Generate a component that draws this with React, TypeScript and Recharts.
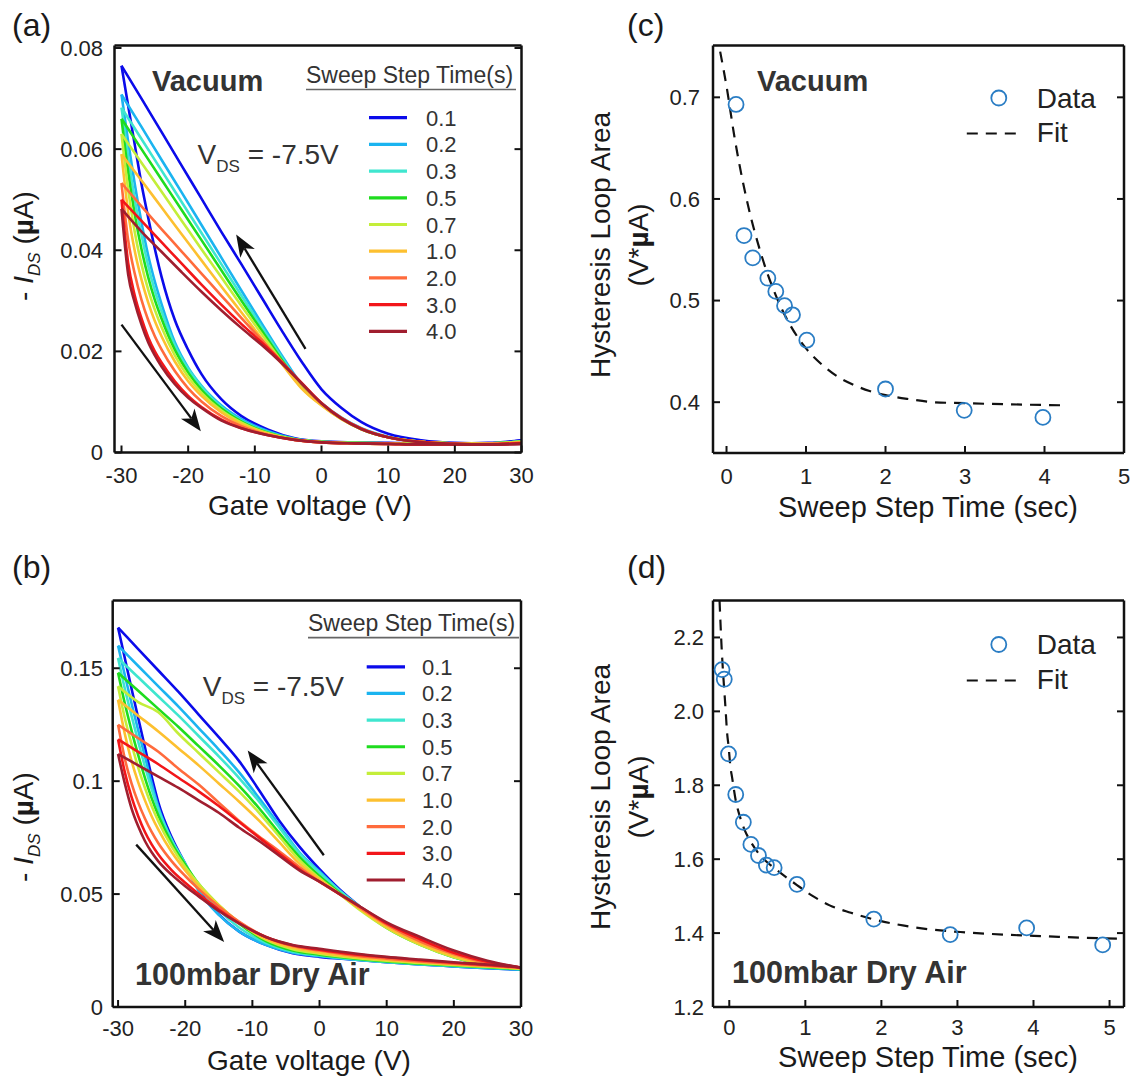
import React from 'react';
import { LineChart, Line, XAxis, YAxis, ReferenceLine, Legend, ComposedChart, Scatter } from 'recharts';

const FONT = '"Liberation Sans", Arial, Helvetica, sans-serif';

// ---------- shared legend / series meta ----------
const STEP_TIMES = ['0.1', '0.2', '0.3', '0.5', '0.7', '1.0', '2.0', '3.0', '4.0'];
const COLORS = ['#0b0bea', '#1bb4f0', '#3fe6cf', '#1fdc1f', '#c4ee3a', '#fdc030', '#ff6b3c', '#f2161a', '#a01e2f'];

// gate-voltage grids (V) for the forward (down) and reverse (up) sweeps
const VG_DOWN = [-30, -29, -28, -27, -26, -25, -24, -22, -20, -18, -15, -12, -8, -4, 0, 5, 10, 15, 20, 25, 30];
const VG_UP = [-30, -27, -24, -21, -18, -15, -12, -9, -6, -3, 0, 3, 6, 10, 15, 20, 25, 30];

// ---------- (a) Vacuum, -I_DS (uA) ----------
const VAC_DOWN = [
  [0.0765, 0.0686, 0.0608, 0.0531, 0.0465, 0.0403, 0.0348, 0.0262, 0.0203, 0.0155, 0.0105, 0.0072, 0.0045, 0.0028, 0.0022, 0.0020, 0.0019, 0.0018, 0.0018, 0.0019, 0.0024],
  [0.0708, 0.0615, 0.0530, 0.0455, 0.0390, 0.0338, 0.0294, 0.0218, 0.0168, 0.0132, 0.0093, 0.0066, 0.0042, 0.0027, 0.0021, 0.0019, 0.0018, 0.0017, 0.0017, 0.0018, 0.0022],
  [0.0682, 0.0585, 0.0500, 0.0430, 0.0370, 0.0320, 0.0280, 0.0212, 0.0165, 0.0130, 0.0090, 0.0063, 0.0040, 0.0026, 0.0021, 0.0019, 0.0018, 0.0017, 0.0017, 0.0018, 0.0021],
  [0.0660, 0.0555, 0.0470, 0.0402, 0.0347, 0.0302, 0.0265, 0.0203, 0.0158, 0.0124, 0.0087, 0.0061, 0.0039, 0.0026, 0.0021, 0.0019, 0.0018, 0.0017, 0.0017, 0.0018, 0.0021],
  [0.0630, 0.0520, 0.0435, 0.0372, 0.0322, 0.0282, 0.0248, 0.0192, 0.0150, 0.0118, 0.0083, 0.0059, 0.0038, 0.0026, 0.0021, 0.0019, 0.0018, 0.0017, 0.0017, 0.0018, 0.0021],
  [0.0590, 0.0475, 0.0398, 0.0342, 0.0297, 0.0260, 0.0230, 0.0180, 0.0141, 0.0112, 0.0079, 0.0056, 0.0037, 0.0025, 0.0020, 0.0018, 0.0017, 0.0017, 0.0017, 0.0017, 0.0020],
  [0.0533, 0.0420, 0.0353, 0.0302, 0.0262, 0.0230, 0.0204, 0.0161, 0.0127, 0.0101, 0.0072, 0.0052, 0.0035, 0.0025, 0.0020, 0.0018, 0.0017, 0.0016, 0.0016, 0.0017, 0.0019],
  [0.0500, 0.0375, 0.0310, 0.0265, 0.0228, 0.0200, 0.0178, 0.0141, 0.0112, 0.0090, 0.0065, 0.0048, 0.0034, 0.0025, 0.0020, 0.0018, 0.0017, 0.0016, 0.0016, 0.0016, 0.0018],
  [0.0482, 0.0352, 0.0296, 0.0253, 0.0218, 0.0192, 0.0170, 0.0135, 0.0108, 0.0088, 0.0063, 0.0048, 0.0034, 0.0025, 0.0020, 0.0018, 0.0017, 0.0016, 0.0016, 0.0016, 0.0017],
];
const VAC_UP = [
  [0.0765, 0.0700, 0.0634, 0.0568, 0.0502, 0.0436, 0.0372, 0.0307, 0.0242, 0.0180, 0.0125, 0.0088, 0.0060, 0.0037, 0.0024, 0.0019, 0.0018, 0.0024],
  [0.0708, 0.0644, 0.0579, 0.0515, 0.0450, 0.0385, 0.0320, 0.0256, 0.0193, 0.0135, 0.0098, 0.0069, 0.0048, 0.0031, 0.0021, 0.0018, 0.0017, 0.0022],
  [0.0682, 0.0620, 0.0558, 0.0496, 0.0434, 0.0372, 0.0310, 0.0249, 0.0189, 0.0132, 0.0096, 0.0068, 0.0047, 0.0030, 0.0021, 0.0018, 0.0017, 0.0021],
  [0.0660, 0.0600, 0.0540, 0.0480, 0.0420, 0.0360, 0.0300, 0.0242, 0.0184, 0.0130, 0.0095, 0.0067, 0.0046, 0.0030, 0.0021, 0.0018, 0.0017, 0.0021],
  [0.0630, 0.0573, 0.0516, 0.0459, 0.0402, 0.0346, 0.0290, 0.0235, 0.0180, 0.0128, 0.0094, 0.0066, 0.0046, 0.0030, 0.0021, 0.0018, 0.0017, 0.0021],
  [0.0590, 0.0538, 0.0485, 0.0432, 0.0380, 0.0328, 0.0277, 0.0226, 0.0176, 0.0127, 0.0093, 0.0066, 0.0046, 0.0030, 0.0021, 0.0018, 0.0017, 0.0020],
  [0.0533, 0.0487, 0.0442, 0.0398, 0.0354, 0.0310, 0.0266, 0.0223, 0.0180, 0.0136, 0.0097, 0.0068, 0.0047, 0.0030, 0.0021, 0.0017, 0.0016, 0.0019],
  [0.0500, 0.0458, 0.0416, 0.0374, 0.0332, 0.0292, 0.0254, 0.0218, 0.0179, 0.0138, 0.0098, 0.0068, 0.0047, 0.0030, 0.0021, 0.0017, 0.0016, 0.0018],
  [0.0482, 0.0437, 0.0397, 0.0357, 0.0318, 0.0281, 0.0246, 0.0213, 0.0177, 0.0137, 0.0097, 0.0067, 0.0046, 0.0030, 0.0020, 0.0017, 0.0016, 0.0017],
];

// ---------- (b) 100 mbar dry air, -I_DS (uA) ----------
const AIR_DOWN = [
  [0.168, 0.1545, 0.141, 0.128, 0.115, 0.102, 0.0905, 0.075, 0.0635, 0.052, 0.041, 0.0335, 0.0275, 0.0238, 0.0222, 0.021, 0.0198, 0.0188, 0.018, 0.0172, 0.0165],
  [0.160, 0.147, 0.1345, 0.1225, 0.111, 0.099, 0.0885, 0.0735, 0.0625, 0.0515, 0.0408, 0.0335, 0.0275, 0.024, 0.0225, 0.021, 0.0198, 0.0188, 0.018, 0.0172, 0.0165],
  [0.1545, 0.141, 0.129, 0.1175, 0.1065, 0.0965, 0.0875, 0.074, 0.0635, 0.0535, 0.043, 0.0352, 0.0284, 0.0245, 0.0228, 0.0212, 0.020, 0.019, 0.0182, 0.0175, 0.0168],
  [0.148, 0.1345, 0.1225, 0.1115, 0.1015, 0.0925, 0.0848, 0.0725, 0.063, 0.0545, 0.045, 0.037, 0.0292, 0.025, 0.0232, 0.0215, 0.0202, 0.0192, 0.0184, 0.0176, 0.0168],
  [0.142, 0.128, 0.1165, 0.106, 0.097, 0.089, 0.0822, 0.071, 0.062, 0.0545, 0.0452, 0.0375, 0.0298, 0.0256, 0.0236, 0.0218, 0.0205, 0.0195, 0.0186, 0.0178, 0.017],
  [0.136, 0.121, 0.109, 0.0995, 0.0915, 0.0845, 0.0785, 0.0685, 0.0605, 0.0535, 0.0448, 0.0375, 0.0302, 0.0262, 0.0242, 0.0222, 0.0208, 0.0198, 0.0188, 0.018, 0.0172],
  [0.125, 0.110, 0.099, 0.0905, 0.0835, 0.0775, 0.0725, 0.0645, 0.058, 0.0522, 0.0445, 0.0378, 0.031, 0.027, 0.025, 0.0228, 0.0214, 0.0202, 0.0192, 0.0183, 0.0173],
  [0.1185, 0.104, 0.093, 0.0845, 0.0775, 0.072, 0.0675, 0.0605, 0.055, 0.050, 0.0432, 0.0372, 0.031, 0.0273, 0.0254, 0.0234, 0.022, 0.0207, 0.0196, 0.0186, 0.0175],
  [0.112, 0.099, 0.088, 0.080, 0.0735, 0.0685, 0.0645, 0.0585, 0.0535, 0.049, 0.0425, 0.037, 0.031, 0.0275, 0.0258, 0.0238, 0.0222, 0.021, 0.0198, 0.0188, 0.0175],
];
const AIR_UP = [
  [0.168, 0.1585, 0.149, 0.1395, 0.1295, 0.1195, 0.109, 0.096, 0.0825, 0.071, 0.061, 0.052, 0.0445, 0.036, 0.0285, 0.0225, 0.019, 0.0165],
  [0.160, 0.151, 0.142, 0.133, 0.1235, 0.114, 0.104, 0.0925, 0.0805, 0.0685, 0.060, 0.0515, 0.044, 0.0355, 0.028, 0.022, 0.0185, 0.0165],
  [0.1545, 0.146, 0.1375, 0.129, 0.120, 0.111, 0.1015, 0.091, 0.0795, 0.068, 0.0595, 0.0515, 0.0445, 0.036, 0.0285, 0.0225, 0.019, 0.0168],
  [0.148, 0.140, 0.132, 0.124, 0.1155, 0.107, 0.098, 0.088, 0.077, 0.0665, 0.058, 0.0505, 0.0435, 0.035, 0.0275, 0.022, 0.0185, 0.0168],
  [0.142, 0.135, 0.1305, 0.121, 0.1125, 0.104, 0.0955, 0.086, 0.0755, 0.065, 0.057, 0.050, 0.043, 0.035, 0.0275, 0.022, 0.0185, 0.017],
  [0.136, 0.129, 0.122, 0.1145, 0.107, 0.099, 0.091, 0.0825, 0.073, 0.0635, 0.0565, 0.050, 0.0435, 0.0355, 0.028, 0.0225, 0.019, 0.0172],
  [0.125, 0.119, 0.113, 0.1055, 0.0985, 0.0905, 0.0825, 0.0755, 0.069, 0.062, 0.0555, 0.050, 0.044, 0.0365, 0.029, 0.0235, 0.0195, 0.0173],
  [0.1185, 0.113, 0.1075, 0.1015, 0.0955, 0.089, 0.082, 0.075, 0.068, 0.061, 0.0555, 0.050, 0.0445, 0.037, 0.030, 0.024, 0.020, 0.0175],
  [0.112, 0.107, 0.102, 0.097, 0.0915, 0.086, 0.0795, 0.0735, 0.067, 0.0605, 0.0555, 0.050, 0.0445, 0.0375, 0.031, 0.025, 0.0205, 0.0175],
];

// ---------- (c) Vacuum hysteresis area ----------
const C_STEP = [0.12, 0.22, 0.33, 0.52, 0.62, 0.73, 0.83, 1.01, 2.0, 2.99, 3.98];
const C_AREA = [0.693, 0.564, 0.542, 0.522, 0.509, 0.495, 0.486, 0.461, 0.413, 0.392, 0.385];
const C_FIT_X = [-0.08, 0, 0.1, 0.2, 0.3, 0.4, 0.5, 0.6, 0.7, 0.8, 1.0, 1.2, 1.4, 1.6, 1.8, 2.0, 2.3, 2.6, 3.0, 3.5, 4.2];
const C_FIT_Y = [0.745, 0.711, 0.661, 0.619, 0.584, 0.555, 0.530, 0.509, 0.491, 0.476, 0.453, 0.437, 0.425, 0.417, 0.411, 0.407, 0.403, 0.400, 0.399, 0.398, 0.397];

// ---------- (d) dry air hysteresis area ----------
const D_STEP = [-0.095, -0.066, -0.01, 0.085, 0.185, 0.284, 0.384, 0.488, 0.59, 0.89, 1.90, 2.905, 3.91, 4.91];
const D_AREA = [2.113, 2.087, 1.885, 1.775, 1.70, 1.64, 1.61, 1.584, 1.577, 1.532, 1.438, 1.396, 1.414, 1.368];
const D_FIT_X = [-0.128, -0.1, -0.08, -0.06, -0.047, -0.03, -0.009, 0.014, 0.038, 0.085, 0.14, 0.2, 0.28, 0.37, 0.48, 0.61, 0.75, 0.89, 1.1, 1.32, 1.6, 1.9, 2.3, 2.64, 3.1, 3.6, 4.2, 4.7, 5.16];
const D_FIT_Y = [2.30, 2.17, 2.10, 2.04, 2.00, 1.945, 1.905, 1.852, 1.82, 1.759, 1.715, 1.68, 1.648, 1.62, 1.595, 1.573, 1.551, 1.53, 1.50, 1.475, 1.455, 1.437, 1.42, 1.41, 1.402, 1.396, 1.391, 1.387, 1.385];

// axis ticks
const VG_TICKS = [-30, -20, -10, 0, 10, 20, 30];
const VAC_I_TICKS = [0, 0.02, 0.04, 0.06, 0.08];
const AIR_I_TICKS = [0, 0.05, 0.1, 0.15];
const STEP_TICKS = [0, 1, 2, 3, 4, 5];
const C_AREA_TICKS = [0.4, 0.5, 0.6, 0.7];
const D_AREA_TICKS = [1.2, 1.4, 1.6, 1.8, 2.0, 2.2];

// ---------- helpers ----------
const INK = '#111';
const AX_LINE = { stroke: INK, strokeWidth: 2.5 };
const TICK_LINE = { stroke: INK, strokeWidth: 2 };
const TICK_TXT = { fill: '#222', fontSize: 22 };
const NoTick = () => <g />;

const arrowShape = (p: any) => {
  const { x1, y1, x2, y2 } = p;
  const dx = x2 - x1;
  const dy = y2 - y1;
  const len = Math.hypot(dx, dy) || 1;
  const ux = dx / len;
  const uy = dy / len;
  const hl = 22;
  const hw = 8.5;
  const bx = x2 - ux * hl;
  const by = y2 - uy * hl;
  const nx = bx + ux * 6;
  const ny = by + uy * 6;
  const pts = `${x2},${y2} ${bx - uy * hw},${by + ux * hw} ${nx},${ny} ${bx + uy * hw},${by - ux * hw}`;
  return (
    <g>
      <line x1={x1} y1={y1} x2={nx} y2={ny} stroke={INK} strokeWidth={2.3} />
      <polygon points={pts} fill={INK} />
    </g>
  );
};

type Plot = { l: number; t: number; r: number; b: number };
const marginFor = (left: number, top: number, w: number, h: number, p: Plot) => ({
  left: p.l - left - 60,
  top: p.t - top - 10,
  right: left + w - p.r - 10,
  bottom: top + h - p.b - 60,
});

type LegCfg = { hx: number; hy: number; hx2: number; uy: number; lx1: number; lx2: number; ry0: number; rdy: number; tx: number };

const makeStepLegend = (w: number, h: number, c: LegCfg) => () => (
  <svg width={w} height={h} style={{ display: 'block', overflow: 'visible' }}>
    <text x={c.hx} y={c.hy} fontSize={23} fill="#333">Sweep Step Time(s)</text>
    <line x1={c.hx} x2={c.hx2} y1={c.uy} y2={c.uy} stroke="#666" strokeWidth={1.6} />
    {STEP_TIMES.map((t, i) => (
      <g key={t}>
        <line x1={c.lx1} x2={c.lx2} y1={c.ry0 + i * c.rdy} y2={c.ry0 + i * c.rdy} stroke={COLORS[i]} strokeWidth={3.2} />
        <text x={c.tx} y={c.ry0 + i * c.rdy + 8} fontSize={22} fill="#333">{t}</text>
      </g>
    ))}
  </svg>
);

const makeFitLegend = (w: number, h: number, cx: number, cy: number, fy: number) => () => (
  <svg width={w} height={h} style={{ display: 'block', overflow: 'visible' }}>
    <circle cx={cx} cy={cy} r={7.5} fill="none" stroke="#2a7dc4" strokeWidth={1.8} />
    <text x={cx + 38} y={cy + 9.5} fontSize={28} fill="#222">Data</text>
    <line x1={cx - 32} x2={cx + 25} y1={fy} y2={fy} stroke={INK} strokeWidth={2} strokeDasharray="11 8" />
    <text x={cx + 38} y={fy + 9} fontSize={28} fill="#222">Fit</text>
  </svg>
);

type LoopPanelProps = {
  left: number; top: number; w: number; h: number; plot: Plot;
  xDomain: [number, number]; yDomain: [number, number]; yTicks: number[];
  down: number[][]; up: number[][];
  arrows: { from: [number, number]; to: [number, number] }[];
  legend: LegCfg; xTickMargin: number; yTickMargin: number;
};

const LoopPanel = (p: LoopPanelProps) => {
  const m = marginFor(p.left, p.top, p.w, p.h, p.plot);
  return (
    <div style={{ position: 'absolute', left: p.left, top: p.top }}>
      <LineChart width={p.w} height={p.h} margin={m}>
        <XAxis xAxisId={0} type="number" dataKey="v" domain={p.xDomain} ticks={VG_TICKS} allowDataOverflow
          height={60} axisLine={AX_LINE} tickLine={TICK_LINE} tickSize={-7} tickMargin={p.xTickMargin} tick={TICK_TXT} interval={0} />
        <XAxis xAxisId="t" orientation="top" type="number" domain={p.xDomain} ticks={VG_TICKS} allowDataOverflow
          height={10} axisLine={AX_LINE} tickLine={TICK_LINE} tickSize={-7} tick={NoTick} interval={0} />
        <YAxis yAxisId={0} type="number" domain={p.yDomain} ticks={p.yTicks} allowDataOverflow width={60}
          axisLine={AX_LINE} tickLine={TICK_LINE} tickSize={-7} tickMargin={p.yTickMargin} tick={TICK_TXT}
          tickFormatter={(v: number) => String(v)} interval={0} />
        <YAxis yAxisId="r" orientation="right" type="number" domain={p.yDomain} ticks={p.yTicks} allowDataOverflow width={10}
          axisLine={AX_LINE} tickLine={TICK_LINE} tickSize={-7} tick={NoTick} interval={0} />
        {p.down.map((row, s) => [
          <Line key={'d' + s} xAxisId={0} yAxisId={0} data={row.map((i, k) => ({ v: VG_DOWN[k], i }))} dataKey="i"
            type="monotone" stroke={COLORS[s]} strokeWidth={2.6} dot={false} isAnimationActive={false} />,
          <Line key={'u' + s} xAxisId={0} yAxisId={0} data={p.up[s].map((i, k) => ({ v: VG_UP[k], i }))} dataKey="i"
            type="monotone" stroke={COLORS[s]} strokeWidth={2.6} dot={false} isAnimationActive={false} />,
        ])}
        {p.arrows.map((a, k) => (
          <ReferenceLine key={'a' + k} xAxisId={0} yAxisId={0} ifOverflow="visible"
            segment={[{ x: a.from[0], y: a.from[1] }, { x: a.to[0], y: a.to[1] }]} shape={arrowShape} />
        ))}
        <Legend layout="horizontal" align="center" verticalAlign="middle"
          wrapperStyle={{ position: 'absolute', left: 0, top: 0, width: p.w, height: p.h, pointerEvents: 'none' }}
          content={makeStepLegend(p.w, p.h, p.legend)} />
      </LineChart>
    </div>
  );
};

type AreaPanelProps = {
  left: number; top: number; w: number; h: number; plot: Plot;
  xDomain: [number, number]; yDomain: [number, number]; yTicks: number[];
  xs: number[]; ys: number[]; fx: number[]; fy: number[];
  leg: { cx: number; cy: number; fy: number };
  xTickMargin: number; yTickMargin: number;
};

const ring = (s: any) => <circle cx={s.cx} cy={s.cy} r={7.5} fill="none" stroke="#2a7dc4" strokeWidth={1.8} />;

const AreaPanel = (p: AreaPanelProps) => {
  const m = marginFor(p.left, p.top, p.w, p.h, p.plot);
  const pts = p.xs.map((x, i) => ({ x, y: p.ys[i] }));
  const fit = p.fx.map((x, i) => ({ x, y: p.fy[i] }));
  return (
    <div style={{ position: 'absolute', left: p.left, top: p.top }}>
      <ComposedChart width={p.w} height={p.h} margin={m}>
        <XAxis xAxisId={0} type="number" dataKey="x" domain={p.xDomain} ticks={STEP_TICKS} allowDataOverflow
          height={60} axisLine={AX_LINE} tickLine={TICK_LINE} tickSize={-7} tickMargin={p.xTickMargin} tick={TICK_TXT} interval={0} />
        <XAxis xAxisId="t" orientation="top" type="number" domain={p.xDomain} ticks={STEP_TICKS} allowDataOverflow
          height={10} axisLine={AX_LINE} tickLine={TICK_LINE} tickSize={-7} tick={NoTick} interval={0} />
        <YAxis yAxisId={0} type="number" dataKey="y" domain={p.yDomain} ticks={p.yTicks} allowDataOverflow width={60}
          axisLine={AX_LINE} tickLine={TICK_LINE} tickSize={-7} tickMargin={p.yTickMargin} tick={TICK_TXT}
          tickFormatter={(v: number) => v.toFixed(1)} interval={0} />
        <YAxis yAxisId="r" orientation="right" type="number" domain={p.yDomain} ticks={p.yTicks} allowDataOverflow width={10}
          axisLine={AX_LINE} tickLine={TICK_LINE} tickSize={-7} tick={NoTick} interval={0} />
        <Line xAxisId={0} yAxisId={0} data={fit} dataKey="y" type="monotone" stroke={INK} strokeWidth={2.2}
          strokeDasharray="11 8" dot={false} isAnimationActive={false} />
        <Scatter xAxisId={0} yAxisId={0} data={pts} dataKey="y" shape={ring} isAnimationActive={false} />
        <Legend layout="horizontal" align="center" verticalAlign="middle"
          wrapperStyle={{ position: 'absolute', left: 0, top: 0, width: p.w, height: p.h, pointerEvents: 'none' }}
          content={makeFitLegend(p.w, p.h, p.leg.cx, p.leg.cy, p.leg.fy)} />
      </ComposedChart>
    </div>
  );
};

const IdsLabel = ({ x, y }: { x: number; y: number }) => (
  <text transform={`translate(${x},${y}) rotate(-90)`} textAnchor="middle" fontSize={28} fill="#1a1a1a">
    <tspan>- </tspan>
    <tspan fontStyle="italic">I</tspan>
    <tspan fontStyle="italic" fontSize={17} dy={7}>DS</tspan>
    <tspan dy={-7}> (</tspan>
    <tspan fontWeight="bold">µ</tspan>
    <tspan>A)</tspan>
  </text>
);

const AreaLabel = ({ x1, x2, y }: { x1: number; x2: number; y: number }) => (
  <g>
    <text transform={`translate(${x1},${y}) rotate(-90)`} textAnchor="middle" fontSize={28} fill="#1a1a1a">Hysteresis Loop Area</text>
    <text transform={`translate(${x2},${y}) rotate(-90)`} textAnchor="middle" fontSize={28} fill="#1a1a1a">
      <tspan>(V*</tspan>
      <tspan fontWeight="bold">µ</tspan>
      <tspan>A)</tspan>
    </text>
  </g>
);

const Vds = ({ x, y }: { x: number; y: number }) => (
  <text x={x} y={y} fontSize={28} fill="#333">
    <tspan>V</tspan>
    <tspan fontSize={17} dy={8}>DS</tspan>
    <tspan dy={-8}> = -7.5V</tspan>
  </text>
);

export default function App() {
  return (
    <div style={{ position: 'absolute', left: 0, top: 0, width: 1135, height: 1080, background: '#fff', fontFamily: FONT }}>
      <LoopPanel left={0} top={0} w={560} h={540} plot={{ l: 114.5, t: 45.5, r: 521.5, b: 452.5 }}
        xDomain={[-31.05, 30]} yDomain={[0, 0.0805]} yTicks={VAC_I_TICKS} down={VAC_DOWN} up={VAC_UP}
        arrows={[{ from: [-30, 0.0253], to: [-18.1, 0.0042] }, { from: [-2.4, 0.0205], to: [-12.8, 0.0431] }]}
        legend={{ hx: 306, hy: 82.5, hx2: 516, uy: 89.5, lx1: 369, lx2: 407, ry0: 117.7, rdy: 26.7, tx: 426 }}
        xTickMargin={22} yTickMargin={18.5} />
      <LoopPanel left={0} top={540} w={560} h={540} plot={{ l: 112.7, t: 600.5, r: 521, b: 1007 }}
        xDomain={[-30.8, 30]} yDomain={[0, 0.18]} yTicks={AIR_I_TICKS} down={AIR_DOWN} up={AIR_UP}
        arrows={[{ from: [-27.3, 0.0719], to: [-14.2, 0.0288] }, { from: [0.64, 0.0672], to: [-10.7, 0.1136] }]}
        legend={{ hx: 308, hy: 90.5, hx2: 519, uy: 97.6, lx1: 366.7, lx2: 405, ry0: 126.8, rdy: 26.65, tx: 422 }}
        xTickMargin={20} yTickMargin={16.7} />
      <AreaPanel left={560} top={0} w={575} h={540} plot={{ l: 713, t: 45.5, r: 1124, b: 453 }}
        xDomain={[-0.17, 5]} yDomain={[0.35, 0.751]} yTicks={C_AREA_TICKS}
        xs={C_STEP} ys={C_AREA} fx={C_FIT_X} fy={C_FIT_Y}
        leg={{ cx: 438.8, cy: 98, fy: 133.4 }} xTickMargin={22} yTickMargin={20} />
      <AreaPanel left={560} top={540} w={575} h={540} plot={{ l: 713, t: 600.5, r: 1124, b: 1007 }}
        xDomain={[-0.214, 5.19]} yDomain={[1.2, 2.3]} yTicks={D_AREA_TICKS}
        xs={D_STEP} ys={D_AREA} fx={D_FIT_X} fy={D_FIT_Y}
        leg={{ cx: 438.8, cy: 104.5, fy: 140.4 }} xTickMargin={19} yTickMargin={16} />
      <svg width={1135} height={1080} style={{ position: 'absolute', left: 0, top: 0, pointerEvents: 'none' }}>
        <g fontFamily={FONT}>
          <text x={12} y={35.5} fontSize={32} fill="#1a1a1a">(a)</text>
          <text x={12} y={577.5} fontSize={32} fill="#1a1a1a">(b)</text>
          <text x={627} y={35.5} fontSize={32} fill="#1a1a1a">(c)</text>
          <text x={627} y={577.5} fontSize={32} fill="#1a1a1a">(d)</text>
          <IdsLabel x={33} y={246} />
          <IdsLabel x={33} y={827} />
          <AreaLabel x1={610} x2={648} y={245} />
          <AreaLabel x1={610} x2={648} y={797} />
          <text x={310} y={515} textAnchor="middle" fontSize={28} fill="#1a1a1a">Gate voltage (V)</text>
          <text x={309} y={1070} textAnchor="middle" fontSize={28} fill="#1a1a1a">Gate voltage (V)</text>
          <text x={928} y={516.5} textAnchor="middle" fontSize={29} fill="#1a1a1a">Sweep Step Time (sec)</text>
          <text x={928} y={1067} textAnchor="middle" fontSize={29} fill="#1a1a1a">Sweep Step Time (sec)</text>
          <text x={152} y={91} fontSize={29} fontWeight="bold" fill="#333">Vacuum</text>
          <text x={757} y={91} fontSize={29} fontWeight="bold" fill="#333">Vacuum</text>
          <text x={135} y={985} fontSize={30.5} fontWeight="bold" fill="#333">100mbar Dry Air</text>
          <text x={732} y={983} fontSize={30.5} fontWeight="bold" fill="#333">100mbar Dry Air</text>
          <Vds x={197.6} y={164} />
          <Vds x={202.7} y={696} />
        </g>
      </svg>
    </div>
  );
}
